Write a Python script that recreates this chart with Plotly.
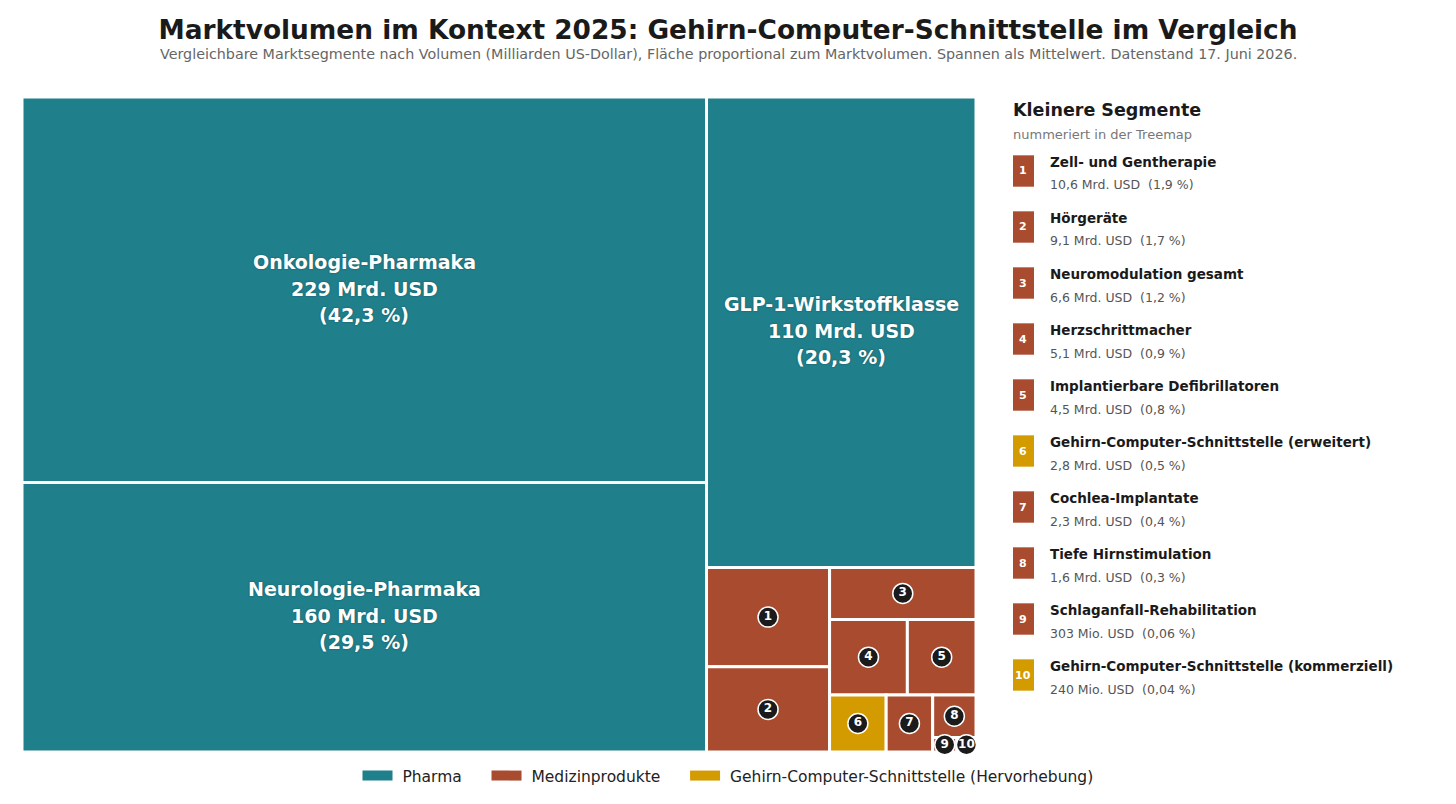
import plotly.graph_objects as go

# Marktsegmente (Mrd. USD), absteigend sortiert
segments = ["Onkologie-Pharmaka", "Neurologie-Pharmaka", "GLP-1-Wirkstoffklasse",
            "Zell- und Gentherapie", "Hörgeräte", "Neuromodulation gesamt",
            "Herzschrittmacher", "Implantierbare Defibrillatoren",
            "Gehirn-Computer-Schnittstelle (erweitert)", "Cochlea-Implantate",
            "Tiefe Hirnstimulation", "Schlaganfall-Rehabilitation",
            "Gehirn-Computer-Schnittstelle (kommerziell)"]
volumes = [229, 160, 110, 10.6, 9.1, 6.6, 5.1, 4.5, 2.8, 2.3, 1.6, 0.303, 0.240]
shares = ["42,3", "29,5", "20,3", "1,9", "1,7", "1,2", "0,9", "0,8", "0,5", "0,4", "0,3", "0,06", "0,04"]
groups = ["Pharma", "Pharma", "Pharma", "Medizin", "Medizin", "Medizin", "Medizin",
          "Medizin", "BCI", "Medizin", "Medizin", "Medizin", "BCI"]

group_order = ["Pharma", "Medizin", "BCI"]
group_names = {"Pharma": "Pharma", "Medizin": "Medizinprodukte",
               "BCI": "Gehirn-Computer-Schnittstelle (Hervorhebung)"}
colors = {"Pharma": "#1F7F8B", "Medizin": "#A84B2F", "BCI": "#D49B00"}

FONT = "DejaVu Sans"
N_BIG = 3  # die drei großen Segmente bekommen Text im Feld


# --- squarify (Bruls et al.), auf 100x100 normiert ---
def layout_rect(sizes, x, y, dx, dy):
    rects = []
    if dx >= dy:
        w = sum(sizes) / dy
        for s in sizes:
            rects.append((x, y, w, s / w))
            y += s / w
    else:
        h = sum(sizes) / dx
        for s in sizes:
            rects.append((x, y, s / h, h))
            x += s / h
    return rects


def leftover(sizes, x, y, dx, dy):
    if dx >= dy:
        w = sum(sizes) / dy
        return x + w, y, dx - w, dy
    h = sum(sizes) / dx
    return x, y + h, dx, dy - h


def worst_ratio(sizes, x, y, dx, dy):
    return max(max(r[2] / r[3], r[3] / r[2]) for r in layout_rect(sizes, x, y, dx, dy))


def squarify(sizes, x, y, dx, dy):
    if not sizes:
        return []
    if len(sizes) == 1:
        return layout_rect(sizes, x, y, dx, dy)
    i = 1
    while i < len(sizes) and worst_ratio(sizes[:i], x, y, dx, dy) >= worst_ratio(sizes[:i + 1], x, y, dx, dy):
        i += 1
    nx, ny, ndx, ndy = leftover(sizes[:i], x, y, dx, dy)
    return layout_rect(sizes[:i], x, y, dx, dy) + squarify(sizes[i:], nx, ny, ndx, ndy)


def fmt_volume(v):
    if v >= 1:
        s = f"{v:.1f}" if v < 100 else f"{v:.0f}"
        return s.replace(".", ",") + " Mrd. USD"
    return f"{v * 1000:.0f} Mio. USD"


total = sum(volumes)
norm = [v * 100 * 100 / total for v in volumes]
rects = squarify(norm, 0, 0, 100, 100)
centers = [(x + dx / 2, y + dy / 2) for x, y, dx, dy in rects]

# Seite hat 8px Rand -> Figur 1448x796
FIG_W, FIG_H = 1448, 796
plot_w = FIG_W - 14
plot_h = 655

fig = go.Figure()

# Felder als Rechtecke auf der Achse
shapes = []
for (x, y, dx, dy), g in zip(rects, groups):
    shapes.append(dict(type="rect", xref="x", yref="y", x0=x, x1=x + dx, y0=y, y1=y + dy,
                       fillcolor=colors[g], line=dict(color="white", width=3),
                       layer="below"))

# Legende (nur Einträge), etwas Luft um die Texte
NB = "\u00a0"
for j, g in enumerate(group_order):
    tail = NB * 4 if j < len(group_order) - 1 else ""
    fig.add_trace(go.Scatter(x=[None], y=[None], mode="lines",
                             name=NB + group_names[g] + tail,
                             line=dict(color=colors[g], width=10), hoverinfo="skip"))

annotations = []
# Beschriftung der großen Felder
for i in range(N_BIG):
    cx, cy = centers[i]
    lines = [segments[i], fmt_volume(volumes[i]), f"({shares[i]} %)"]
    for line, shift in zip(lines, [28, 1, -25]):
        annotations.append(dict(
            x=cx, y=cy, xref="x", yref="y", showarrow=False, yshift=shift,
            text=f"<b>{line}</b>",
            font=dict(family=FONT, size=19, color="white",
                      shadow="0px 0px 2px rgba(0,0,0,0.35)")))

# Nummern-Kreise in den kleinen Feldern
small_idx = list(range(N_BIG, len(volumes)))
fig.add_trace(go.Scatter(
    x=[centers[i][0] for i in small_idx],
    y=[centers[i][1] for i in small_idx],
    mode="markers+text",
    marker=dict(size=20, color="#1b1b1b", line=dict(color="white", width=1.5)),
    text=[f"<b>{k + 1}</b>" for k in range(len(small_idx))],
    textfont=dict(family=FONT, size=12, color="white"),
    textposition="middle center", showlegend=False, hoverinfo="skip",
    cliponaxis=False, xaxis="x", yaxis="y"))

# Seitenliste "Kleinere Segmente"
for k, i in enumerate(small_idx):
    shapes.append(dict(type="rect", xref="x2", yref="y2", x0=13, x1=34,
                       y0=k - 0.28, y1=k + 0.28, fillcolor=colors[groups[i]],
                       line=dict(width=0)))
    annotations.append(dict(x=23.5, y=k, xref="x2", yref="y2", showarrow=False,
                            text=f"<b>{k + 1}</b>",
                            font=dict(family=FONT, size=11, color="white")))
    annotations.append(dict(x=48, y=k, xref="x2", yref="y2", showarrow=False,
                            xanchor="left", yshift=9, text=f"<b>{segments[i]}</b>",
                            font=dict(family=FONT, size=13.5, color="#1a1a1a")))
    annotations.append(dict(x=48, y=k, xref="x2", yref="y2", showarrow=False,
                            xanchor="left", yshift=-14,
                            text=f"{fmt_volume(volumes[i])}  ({shares[i]} %)",
                            font=dict(family=FONT, size=12.5, color="#555555")))

# Umrechnung Seitenpixel -> Papierkoordinaten
px_x = lambda p: (p - 22) / plot_w
px_y = lambda p: (752 - p) / plot_h

annotations.append(dict(x=px_x(1011), y=px_y(110), xref="paper", yref="paper", showarrow=False,
                        xanchor="left", yanchor="middle", text="<b>Kleinere Segmente</b>",
                        font=dict(family=FONT, size=17.5, color="#1a1a1a")))
annotations.append(dict(x=px_x(1011), y=px_y(134), xref="paper", yref="paper", showarrow=False,
                        xanchor="left", yanchor="middle", text="nummeriert in der Treemap",
                        font=dict(family=FONT, size=13, color="#777777")))

# Untertitel
annotations.append(dict(x=px_x(728), y=px_y(54), xref="paper", yref="paper",
                        showarrow=False, xanchor="center", yanchor="middle",
                        text="Vergleichbare Marktsegmente nach Volumen (Milliarden US-Dollar), "
                             "Fläche proportional zum Marktvolumen. Spannen als Mittelwert. "
                             "Datenstand 17. Juni 2026.",
                        font=dict(family=FONT, size=14.3, color="#666666")))

fig.update_layout(
    width=FIG_W, height=FIG_H,
    margin=dict(l=14, r=0, t=89, b=FIG_H - 89 - plot_h, autoexpand=False),
    paper_bgcolor="white", plot_bgcolor="white",
    title=dict(text="<b>Marktvolumen im Kontext 2025: Gehirn-Computer-Schnittstelle im Vergleich</b>",
               x=(728 - 8) / FIG_W, xref="container", xanchor="center",
               y=1 - (30 - 8) / FIG_H, yref="container", yanchor="middle",
               font=dict(family=FONT, size=26.4, color="#1a1a1a")),
    xaxis=dict(domain=[0, 954 / plot_w], range=[0, 100], visible=False, fixedrange=True),
    yaxis=dict(domain=[0, 1], range=[100, 0], visible=False, fixedrange=True),
    xaxis2=dict(domain=[px_x(1000), 1], range=[0, 456], visible=False,
                anchor="y2", fixedrange=True),
    yaxis2=dict(domain=[px_y(703), px_y(143)], range=[9.5, -0.5],
                visible=False, anchor="x2", fixedrange=True),
    legend=dict(orientation="h", x=(728 - 8) / FIG_W, xref="container", xanchor="center",
                y=1 - (776 - 8) / FIG_H, yref="container", yanchor="middle",
                font=dict(family=FONT, size=15.5, color="#222222")),
    shapes=shapes,
    annotations=annotations,
    showlegend=True,
)

fig.write_html("out.html")
